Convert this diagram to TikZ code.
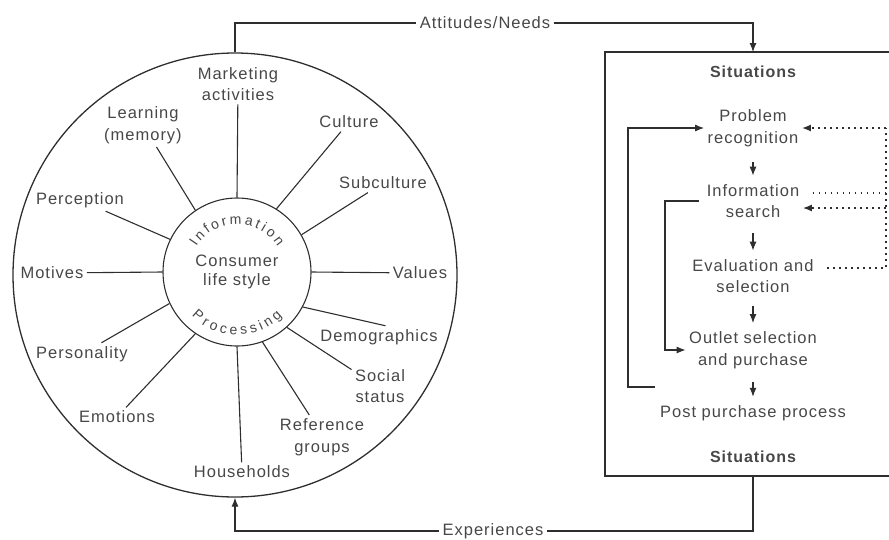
\documentclass[tikz,border=0pt]{standalone}
\usepackage{fontspec}
\setmainfont{Liberation Sans}[LetterSpace=6]
\usetikzlibrary{arrows.meta,decorations.text}

\definecolor{ink}{HTML}{2E2E2E}
\definecolor{txt}{HTML}{474747}

\tikzset{
  lbl/.style={align=center, inner sep=3pt, text=txt, font=\fontsize{16.5}{21.5}\selectfont},
  head/.style={lbl, font=\fontsize{16}{21.5}\selectfont\bfseries},
  flow/.style={line width=1.1pt, -{Latex[length=9pt,width=7pt]}},
  dots/.style={line width=1.6pt, dash pattern=on 1.6pt off 4.4pt},
  arctext/.style={decorate, decoration={text along path, text align={fit to path},
      text={|\fontsize{14}{14}\selectfont\color{txt}|#1}}},
}

\begin{document}
\begin{tikzpicture}[x=1pt,y=1pt, color=ink, line width=1.1pt]
  \useasboundingbox (0,0) rectangle (889,-539);

  % consumer wheel
  \node[circle, draw, line width=1.3pt, minimum size=444pt, inner sep=0] (outer) at (235,-275) {};
  \node[circle, draw, minimum size=148pt, inner sep=0] (core) at (237,-272) {};
  \node[lbl, font=\fontsize{16.5}{19.5}\selectfont] (cons) at (237,-272) {Consumer\\life style};
  \path[arctext=Information] (237,-272) ++(148:48) arc[start angle=148, end angle=32, radius=48];
  \path[arctext=Processing] (237,-272) ++(224:63) arc[start angle=224, end angle=316, radius=63];

  \node[lbl] (mkt)   at (238,-84)  {Marketing\\activities};
  \node[lbl] (learn) at (143,-125) {Learning\\(memory)};
  \node[lbl] (cult)  at (349,-122) {Culture};
  \node[lbl] (subc)  at (383,-183) {Subculture};
  \node[lbl] (perc)  at (80,-200)  {Perception};
  \node[lbl] (motv)  at (52,-273)  {Motives};
  \node[lbl] (valu)  at (420,-273) {Values};
  \node[lbl] (demo)  at (379,-337) {Demographics};
  \node[lbl] (pers)  at (82,-354)  {Personality};
  \node[lbl] (soc)   at (380,-386) {Social\\status};
  \node[lbl] (emo)   at (117,-417) {Emotions};
  \node[lbl] (refg)  at (322,-437) {Reference\\groups};
  \node[lbl] (hh)    at (242,-472) {Households};

  \draw (core.north) -- (mkt);
  \draw (core.124) -- (learn);
  \draw (core.58) -- (cult);
  \draw (core.30) -- (subc);
  \draw (core.154) -- (perc);
  \draw (core.west) -- (motv);
  \draw (core.east) -- (valu);
  \draw (core.-28) -- (demo.60);
  \draw (core.205) -- (pers);
  \draw (core.-48) -- (soc.150);
  \draw (core.236) -- (emo);
  \draw (core.-70) -- (refg.120);
  \draw (core.south) -- (hh);

  % situations box
  \coordinate (boxtop) at (753,-52);
  \coordinate (boxbot) at (753,-476);
  \draw[line width=1.3pt] (889,-52) -| (605,-476) -- (889,-476);
  \node[head] (sit1) at (753,-72)  {Situations};
  \node[head] (sit2) at (753,-457) {Situations};

  \node[lbl] (pr) at (753,-128) {Problem\\recognition};
  \node[lbl] (is) at (753,-201) {Information\\search};
  \node[lbl] (ev) at (753,-276) {Evaluation and\\selection};
  \node[lbl] (os) at (753,-350) {Outlet selection\\and purchase};
  \node[lbl] (pp) at (753,-413) {Post purchase process};

  \draw[flow, shorten <=12pt, shorten >=5pt] (pr) -- (is);
  \draw[flow, shorten <=12pt, shorten >=5pt] (is) -- (ev);
  \draw[flow, shorten <=10pt, shorten >=5pt] (ev) -- (os);
  \draw[flow, shorten <=10pt, shorten >=5pt] (os) -- (pp);

  % feedback loops
  \coordinate (ppfb)  at (655,-387);
  \coordinate (loopA) at (628,0);
  \coordinate (loopB) at (665,0);
  \coordinate (dcol)  at (886,0);
  \draw[flow] (ppfb) -- (ppfb -| loopA) |- (pr.west);
  \draw[flow, shorten <=4pt] (is.west) -- (is.west -| loopB) |- (os.west);

  \draw[dots, shorten <=10pt] ([yshift=8pt]is.east) -- ([yshift=8pt]is.east -| dcol);
  \draw[dots, shorten <=10pt] ([yshift=8pt]ev.east) -- ([yshift=8pt]ev.east -| dcol) -- (pr.east -| dcol);
  \draw[dots, -{Latex[length=9pt,width=7pt]}] (pr.east -| dcol) -- (pr.east);
  \draw[dots, -{Latex[length=9pt,width=7pt]}] ([yshift=-7pt]is.east -| dcol) -- ([yshift=-7pt]is.east);

  % links between wheel and box
  \node[lbl] (att) at (485,-23)  {Attitudes/Needs};
  \node[lbl] (exp) at (493,-531) {Experiences};
  \draw (outer.north) |- (att.west);
  \draw[flow] (att.east) -| (boxtop);
  \draw (boxbot) |- (exp.east);
  \draw[flow] (exp.west) -| (outer.south);
\end{tikzpicture}
\end{document}
